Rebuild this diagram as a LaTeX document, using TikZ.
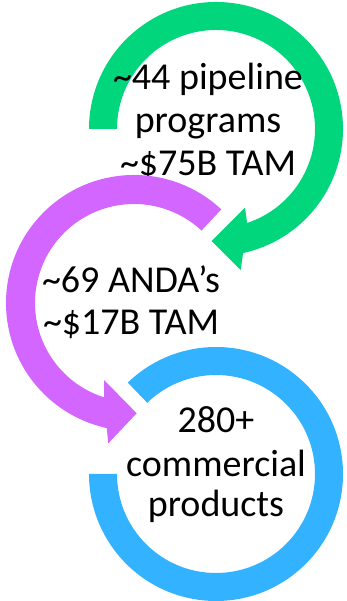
\documentclass[tikz,border=0pt]{standalone}
\usepackage{fontspec}
\setmainfont{Carlito}
\definecolor{ringgreen}{RGB}{2,214,124}
\definecolor{ringpurple}{RGB}{211,102,255}
\definecolor{ringblue}{RGB}{51,178,255}
\begin{document}
\begin{tikzpicture}[x=1pt,y=1pt,
  lbl/.style={font=\fontsize{38}{42}\selectfont, anchor=base, inner sep=0pt, text=black}]
\useasboundingbox (0,0) rectangle (346,601);
% ring centres
\coordinate (G) at (216,472);
\coordinate (P) at (134,298);
\coordinate (B) at (216,127);

% green arrow: arrowhead points
\coordinate (gb1) at (240.7,331);
\coordinate (gtip) at (211.7,360);
\coordinate (gb2) at (245,393.3);
\fill[ringgreen] ([shift={(180:127)}]G) arc[start angle=180,end angle=-77.7,radius=127]
  -- (gb1) -- (gtip) -- (gb2) -- ([shift={(-71.7:99)}]G)
  arc[start angle=-71.7,end angle=180,radius=99] -- cycle;
\node[lbl] (g1) at (208,511) {\textasciitilde 44 pipeline};
\node[lbl] (g2) at (208,468) {programs};
\node[lbl] (g3) at (208,425) {\textasciitilde\$75B TAM};

% purple arrow
\coordinate (pb1) at (108.3,157.7);
\coordinate (ptip) at (136.7,187.7);
\coordinate (pb2) at (104,221);
\fill[ringpurple] ([shift={(47:128)}]P) arc[start angle=47,end angle=257.7,radius=128]
  -- (pb1) -- (ptip) -- (pb2) -- ([shift={(252.5:99)}]P)
  arc[start angle=252.5,end angle=47,radius=99] -- cycle;
\node[lbl] (p1) at (131,308) {\textasciitilde 69 ANDA’s};
\node[lbl] (p2) at (131,266) {\textasciitilde\$17B TAM};

% blue open ring
\fill[ringblue] ([shift={(134:127)}]B) arc[start angle=134,end angle=-180,radius=127]
  -- ([shift={(180:99)}]B) arc[start angle=-180,end angle=134,radius=99] -- cycle;
\node[lbl] (b1) at (216,168) {280+};
\node[lbl] (b2) at (216,124) {commercial};
\node[lbl] (b3) at (216,84) {products};
\end{tikzpicture}
\end{document}
